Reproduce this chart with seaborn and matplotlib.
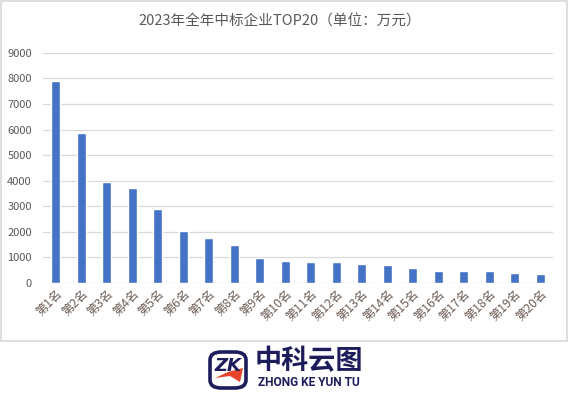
import matplotlib
matplotlib.use("Agg")
import matplotlib.pyplot as plt
import seaborn as sns
import pandas as pd
from matplotlib.patches import FancyBboxPatch, Rectangle, Polygon

categories = [f"第{i}名" for i in range(1, 21)]
values = [7900, 5860, 3940, 3710, 2880, 2030, 1750, 1480, 970, 850,
          820, 820, 740, 700, 580, 470, 470, 470, 390, 350]
yticks = [0, 1000, 2000, 3000, 4000, 5000, 6000, 7000, 8000, 9000]
title = "2023年全年中标企业TOP20（单位：万元）"

sns.set_theme(style="white")
plt.rcParams['font.family'] = ['Noto Sans CJK SC', 'DejaVu Sans']

df = pd.DataFrame({"name": categories, "value": values})

W, H = 568, 397
fig = plt.figure(figsize=(W / 100, H / 100), dpi=100)
fig.patch.set_facecolor("white")

ax = fig.add_axes([43 / W, 1 - 283 / H, 510 / W, (283 - 52.8) / H])
sns.barplot(data=df, x="name", y="value", color="#4472C4", saturation=1,
            width=0.34, ax=ax)
ax.set_xlim(-0.5, 19.5)
ax.set_ylim(0, 9000)
ax.set_yticks(yticks)
ax.set_yticklabels([str(v) for v in yticks])
ax.grid(axis="y", color="#d9d9d9", linewidth=0.9)
ax.set_axisbelow(True)
for s in ax.spines.values():
    s.set_visible(False)
ax.set_xlabel("")
ax.set_ylabel("")
ax.tick_params(axis="y", length=0, pad=8, labelsize=8, labelcolor="#595959")
ax.tick_params(axis="x", length=0, pad=3, labelsize=8.8, labelcolor="#6e5e55")
for lab in ax.get_xticklabels():
    lab.set_rotation(45)
    lab.set_ha("right")
    lab.set_va("top")
    lab.set_rotation_mode("anchor")

fig.text(280 / W, 1 - 22 / H, title, ha="center", va="center", fontsize=10.5,
         color="#595959")

# chart border
fig.patches.append(Rectangle((1 / W, 1 - 341 / H), 566 / W, 340 / H,
                             transform=fig.transFigure, fill=False,
                             edgecolor="#d9d9d9", linewidth=1.2))

# logo
navy = "#1d1d5c"
fig.patches.append(FancyBboxPatch((210 / W, 1 - 388 / H), 36 / W, 36 / H,
                                  boxstyle="round,pad=0,rounding_size=0.02",
                                  transform=fig.transFigure, fill=False,
                                  edgecolor=navy, linewidth=2.6))
fig.patches.append(Polygon([(215 / W, 1 - 378 / H), (228 / W, 1 - 372 / H),
                            (243 / W, 1 - 368 / H), (240 / W, 1 - 382 / H),
                            (230 / W, 1 - 376 / H)],
                           closed=True, transform=fig.transFigure,
                           facecolor="#e8432a", edgecolor="none"))
fig.text(228 / W, 1 - 366 / H, "ZK", ha="center", va="center", fontsize=13,
         fontweight="bold", color=navy, family="DejaVu Sans", style="italic")
fig.text(308.5 / W, 1 - 361 / H, "中科云图", ha="center", va="center",
         fontsize=19.5, fontweight="heavy", color=navy,
         family=['Noto Sans CJK SC'])
fig.text(308.5 / W, 1 - 382 / H, "ZHONG KE YUN TU", ha="center", va="center",
         fontsize=8.6, fontweight="bold", color=navy, family="Roboto")

fig.savefig("out.png", dpi=100, facecolor="white")
